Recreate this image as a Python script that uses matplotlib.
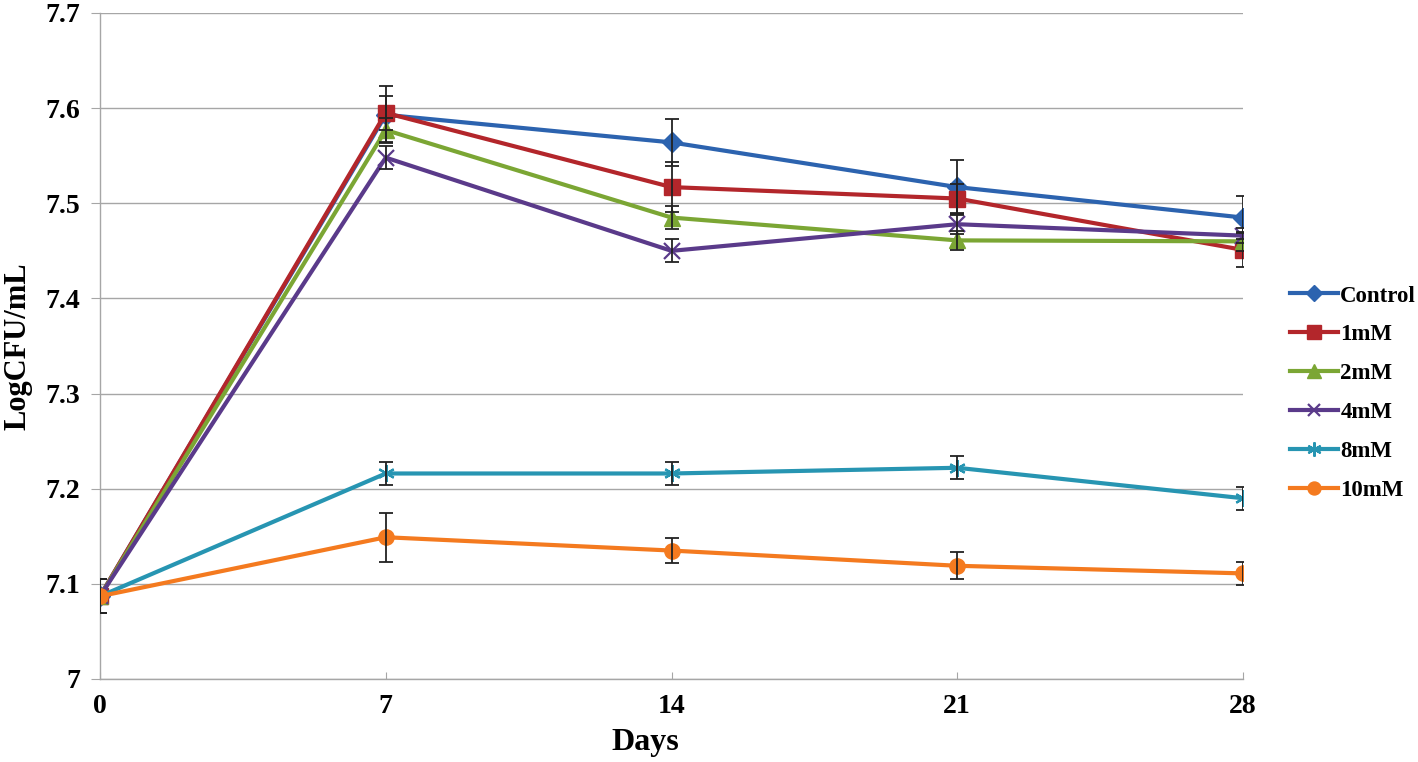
"""
Viable count (LogCFU/mL) over 28 days for each treatment concentration.
"""

import matplotlib
matplotlib.use("Agg")
import matplotlib.pyplot as plt

plt.rcParams["font.family"] = ["Liberation Serif", "DejaVu Serif"]
plt.rcParams["font.weight"] = "bold"

# ── Data ──────────────────────────────────────────────────────────────────────

days = [0, 7, 14, 21, 28]

control = [7.087, 7.593, 7.564, 7.517, 7.485]
control_err = [0.018, 0.030, 0.025, 0.028, 0.023]

mm1 = [7.087, 7.595, 7.517, 7.505, 7.451]
mm1_err = [0.018, 0.018, 0.026, 0.015, 0.018]

mm2 = [7.087, 7.577, 7.485, 7.461, 7.460]
mm2_err = [0.018, 0.013, 0.012, 0.010, 0.010]

mm4 = [7.087, 7.548, 7.450, 7.478, 7.466]
mm4_err = [0.018, 0.012, 0.012, 0.010, 0.008]

mm8 = [7.087, 7.216, 7.216, 7.222, 7.190]
mm8_err = [0.018, 0.012, 0.012, 0.012, 0.012]

mm10 = [7.087, 7.149, 7.135, 7.119, 7.111]
mm10_err = [0.018, 0.026, 0.013, 0.014, 0.012]

labels = ["Control", "1mM", "2mM", "4mM", "8mM", "10mM"]
y_ticks = [7.0, 7.1, 7.2, 7.3, 7.4, 7.5, 7.6, 7.7]
y_tick_labels = ["7", "7.1", "7.2", "7.3", "7.4", "7.5", "7.6", "7.7"]

SERIES = [
    (control, control_err, "#2C63AF", dict(marker="D", markersize=10)),
    (mm1, mm1_err, "#B3262B", dict(marker="s", markersize=12)),
    (mm2, mm2_err, "#7BA634", dict(marker="^", markersize=12)),
    (mm4, mm4_err, "#5A3A8A", dict(marker="x", markersize=11, markeredgewidth=1.6)),
    (mm8, mm8_err, "#2795B2", dict(marker=(6, 2, 0), markersize=12, markeredgewidth=1.6)),
    (mm10, mm10_err, "#F47A1F", dict(marker="o", markersize=11)),
]

GRID = "#A6A6A6"

# ── Plot ──────────────────────────────────────────────────────────────────────

fig = plt.figure(figsize=(14.18, 7.62), dpi=100)
ax = fig.add_axes([100 / 1418, 1 - 679 / 762, 1143 / 1418, 666 / 762])

handles = []
for (vals, errs, col, mk), lab in zip(SERIES, labels):
    (ln,) = ax.plot(days, vals, color=col, linewidth=3.0, label=lab,
                    markerfacecolor=col, markeredgecolor=col, zorder=3, **mk)
    ax.errorbar(days, vals, yerr=errs, fmt="none", ecolor="#222222",
                elinewidth=1.3, capsize=5, capthick=1.3, zorder=4)
    handles.append(ln)

ax.set_xlim(0, 28)
ax.set_ylim(7.0, 7.7)
ax.set_xticks(days)
ax.set_xticklabels([str(d) for d in days])
ax.set_yticks(y_ticks)
ax.set_yticklabels(y_tick_labels)

ax.grid(axis="y", color=GRID, linewidth=1.0, zorder=0)
ax.set_axisbelow(True)
for side in ("top", "right"):
    ax.spines[side].set_visible(False)
for side in ("left", "bottom"):
    ax.spines[side].set_color(GRID)
    ax.spines[side].set_linewidth(1.0)

ax.tick_params(axis="y", direction="out", length=6.5, color=GRID, pad=8, labelsize=20)
ax.tick_params(axis="x", direction="in", length=5, color=GRID, pad=11, labelsize=20)

ax.set_xlabel("Days", fontsize=23, fontweight="bold")
ax.xaxis.set_label_coords(0.477, -0.074)
ax.set_ylabel("LogCFU/mL", fontsize=22, fontweight="bold", labelpad=9)

ax.legend(handles=handles, loc="center left", bbox_to_anchor=(1.041, 0.429),
          frameon=False, handlelength=2.1, handletextpad=0.1,
          labelspacing=0.78, borderpad=0, borderaxespad=0, markerscale=0.85,
          prop={"weight": "bold", "size": 16.5})

fig.savefig("out.png", dpi=100)
